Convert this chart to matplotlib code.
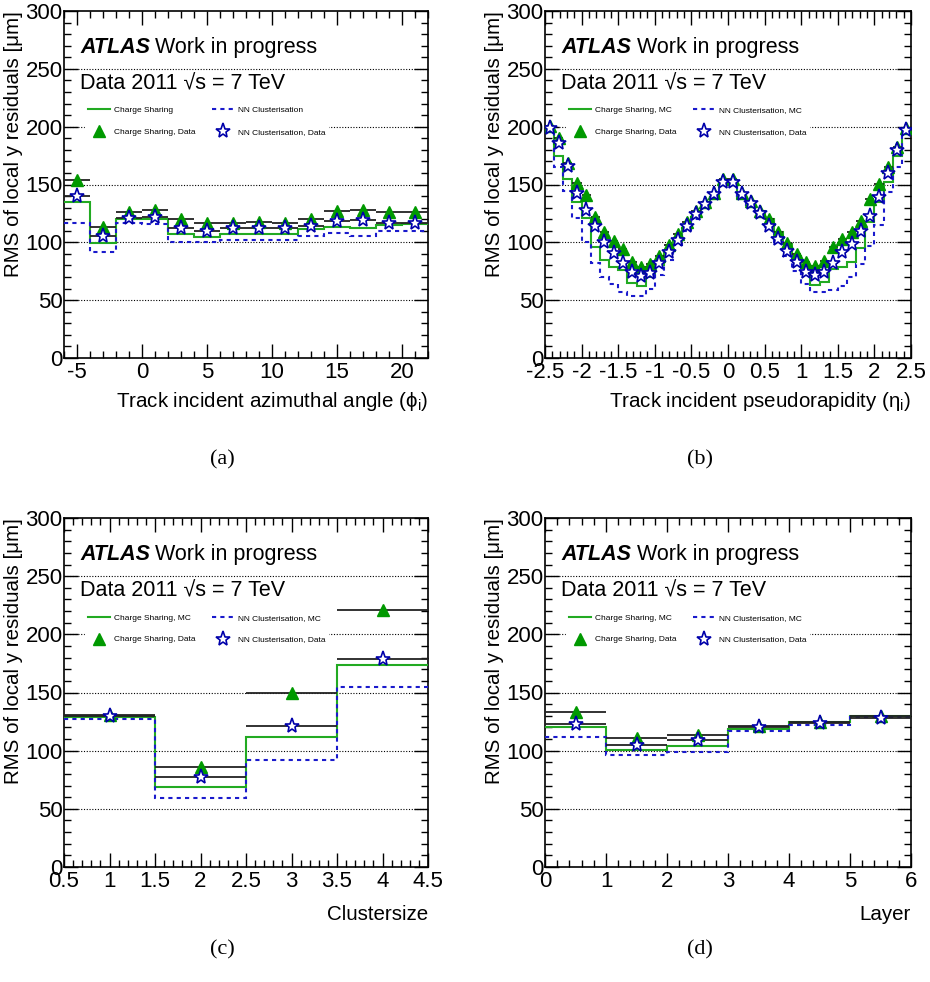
import numpy as np
import matplotlib.pyplot as plt
from matplotlib.ticker import MultipleLocator, FuncFormatter
from matplotlib.lines import Line2D

plt.rcParams['font.family'] = ['Liberation Sans', 'DejaVu Sans']
plt.rcParams['axes.unicode_minus'] = False
plt.rcParams['mathtext.default'] = 'regular'

# ---- data ----
# (a) track incident azimuthal angle, bins of width 2 from -6 to 22
phi_edges = np.arange(-6, 23, 2)
phi_cs_mc = [135, 99, 120.6, 120.6, 107, 105, 107.4, 107.4, 107.4, 111.4, 113.4, 112.3, 114.9, 115.7]
phi_nn_mc = [117, 91.4, 116.9, 115.7, 100, 100, 102, 102, 102, 105.7, 108, 105.7, 110, 109.4]
phi_cs_data = [154.3, 113.4, 126, 128, 120, 116.3, 116.9, 117.7, 117, 120.6, 126.9, 128.3, 126.6, 126.6]
phi_nn_data = [140, 105.7, 121.4, 122, 112.3, 110, 112, 112, 112, 114.3, 118.3, 119.4, 116.6, 117]

# (b) track incident pseudorapidity, 40 bins from -2.5 to 2.5
eta_edges = np.linspace(-2.5, 2.5, 41)
eta_cs_mc = [200, 175, 154.6, 135.3, 120.7, 95.7, 85, 79, 76.4, 64.7,
             62.6, 70, 80, 91, 101, 112, 122, 131, 139, 154,
             154, 138, 134.5, 127.3, 120, 108.6, 98.6, 88, 78, 63.5,
             65.5, 77, 79, 83.3, 95, 118, 135, 152, 175, 198]
eta_nn_mc = [195, 165, 144, 120.7, 100, 82, 70, 64, 57, 54,
             54, 60, 72, 85, 98, 110, 120, 130, 139, 153,
             153, 140, 132, 122, 112, 100, 88, 75, 64, 57,
             57, 59, 62.6, 70, 81, 96.6, 115, 143.7, 165, 195]
eta_cs_data = [200.5, 190, 169, 151.5, 141, 121.5, 109, 101.4, 94.3, 83.3,
               78.4, 81.3, 88.5, 97.7, 107.2, 117.2, 127.3, 134.5, 142.5, 154.5,
               154.5, 143, 136, 127.3, 120, 109, 99.4, 90, 83.3, 79.3,
               84.2, 95.7, 102.9, 108.6, 118.7, 137.4, 150.3, 165, 182, 199]
eta_nn_data = [199, 186, 166, 142.5, 128, 113.8, 100, 90.8, 82, 74,
               71.3, 73.6, 82, 91.4, 102.3, 114.4, 124.4, 133, 141.5, 152.3,
               152.3, 141.4, 134.2, 125.6, 114.4, 102.9, 92.8, 82.8, 74.1, 71.8,
               74.7, 81.9, 91.4, 98.6, 110, 123, 138.8, 160.3, 180, 197]

# (c) cluster size
cl_edges = [0.5, 1.5, 2.5, 3.5, 4.5]
cl_cs_mc = [129, 69, 112, 173.5]
cl_nn_mc = [127, 59, 92, 155]
cl_cs_data = [130.5, 86, 150, 221.3]
cl_nn_data = [130, 77, 121.5, 179.2]

# (d) layer
ly_edges = [0, 1, 2, 3, 4, 5, 6]
ly_cs_mc = [120, 101, 104, 118.5, 124.3, 129.5]
ly_nn_mc = [111.8, 96, 99.1, 116.8, 122.3, 128.6]
ly_cs_data = [133, 111.3, 113.3, 121.4, 124.9, 129.5]
ly_nn_data = [122.5, 105, 109.2, 120, 123.7, 128.3]

labels_a = ['Charge Sharing', 'NN Clusterisation', 'Charge Sharing, Data', 'NN Clusterisation, Data']
labels_mc = ['Charge Sharing, MC', 'NN Clusterisation, MC', 'Charge Sharing, Data', 'NN Clusterisation, Data']

green_line = '#22aa22'
green_mark = '#009900'
blue = '#1a1acc'
star_col = '#0000aa'
fs_tick = 16
fs_title = 14.8
fs_text = 15.5


def panel(ax, edges, cs_mc, nn_mc, cs_data, nn_data, labels, xlabel, major, minor, xlabel_pad):
    edges = np.asarray(edges, dtype=float)
    centers = 0.5 * (edges[1:] + edges[:-1])
    half = 0.5 * np.diff(edges)

    for y in range(50, 300, 50):
        ax.axhline(y, color='black', lw=0.8, ls=(0, (1, 1.5)), zorder=0)

    ax.stairs(cs_mc, edges, baseline=None, color=green_line, lw=1.5, zorder=3)
    ax.stairs(nn_mc, edges, baseline=None, color=blue, lw=1.5, ls=(0, (2, 2)), zorder=3)
    ax.errorbar(centers, cs_data, xerr=half, fmt='none', ecolor='#222222', elinewidth=1.3, zorder=4)
    ax.errorbar(centers, nn_data, xerr=half, fmt='none', ecolor='#222222', elinewidth=1.3, zorder=4)
    ax.plot(centers, cs_data, '^', color=green_mark, ms=8, mec=green_mark, ls='none', zorder=5)
    ax.plot(centers, nn_data, '*', mfc='white', mec=star_col, mew=1.2, ms=11, ls='none', zorder=6)

    ax.set_xlim(edges[0], edges[-1])
    ax.set_ylim(0, 300)
    ax.xaxis.set_major_locator(MultipleLocator(major))
    ax.xaxis.set_minor_locator(MultipleLocator(minor))
    ax.xaxis.set_major_formatter(FuncFormatter(lambda v, p: '%g' % round(v, 3)))
    ax.yaxis.set_major_locator(MultipleLocator(50))
    ax.yaxis.set_minor_locator(MultipleLocator(10))
    ax.tick_params(which='both', direction='in', top=True, right=True, labelsize=fs_tick, width=1.0)
    ax.tick_params(which='major', length=10)
    ax.tick_params(which='minor', length=5)
    ax.tick_params(axis='x', pad=3)
    ax.tick_params(axis='y', pad=1)
    for s in ax.spines.values():
        s.set_linewidth(1.2)

    ax.set_ylabel('RMS of local y residuals [μm]', fontsize=fs_title, loc='top', labelpad=2)
    ax.set_xlabel(xlabel, fontsize=fs_title, loc='right', labelpad=xlabel_pad)

    ax.text(0.045, 0.895, 'ATLAS', transform=ax.transAxes, fontsize=fs_text,
            fontweight='bold', fontstyle='italic', va='center')
    ax.text(0.25, 0.895, 'Work in progress', transform=ax.transAxes, fontsize=fs_text, va='center')
    ax.text(0.045, 0.79, 'Data 2011 √s = 7 TeV', transform=ax.transAxes, fontsize=fs_text, va='center')

    handles = [
        Line2D([], [], color=green_line, lw=1.5),
        Line2D([], [], color=blue, lw=1.5, ls=(0, (2, 2))),
        Line2D([], [], marker='^', color=green_mark, ls='none', ms=8),
        Line2D([], [], marker='*', mfc='white', mec=star_col, mew=1.2, ls='none', ms=11),
    ]
    order = [0, 2, 1, 3]
    leg = ax.legend([handles[i] for i in order], [labels[i] for i in order], ncol=2,
                    loc='upper left', bbox_to_anchor=(0.058, 0.732), fontsize=6,
                    frameon=True, facecolor='white', edgecolor='white', framealpha=1,
                    handlelength=2.7, handletextpad=0.5, columnspacing=1.9,
                    labelspacing=1.65, borderpad=0.3, borderaxespad=0, fancybox=False)
    leg.set_zorder(2)


fig = plt.figure(figsize=(9.3, 9.82), dpi=100)
axa = fig.add_axes([64 / 930, 1 - 358 / 982, 364 / 930, 347 / 982])
axb = fig.add_axes([545 / 930, 1 - 358 / 982, 366 / 930, 347 / 982])
axc = fig.add_axes([64 / 930, 1 - 867 / 982, 364 / 930, 349 / 982])
axd = fig.add_axes([545 / 930, 1 - 867 / 982, 366 / 930, 349 / 982])

panel(axa, phi_edges, phi_cs_mc, phi_nn_mc, phi_cs_data, phi_nn_data, labels_a,
      'Track incident azimuthal angle (ϕ$_{i}$)', 5, 1, 5)
panel(axb, eta_edges, eta_cs_mc, eta_nn_mc, eta_cs_data, eta_nn_data, labels_mc,
      'Track incident pseudorapidity (η$_{i}$)', 0.5, 0.1, 5)
panel(axc, cl_edges, cl_cs_mc, cl_nn_mc, cl_cs_data, cl_nn_data, labels_mc,
      'Clustersize', 0.5, 0.1, 9)
panel(axd, ly_edges, ly_cs_mc, ly_nn_mc, ly_cs_data, ly_nn_data, labels_mc,
      'Layer', 1, 0.2, 9)

for x, y, t in [(222, 460, '(a)'), (700, 460, '(b)'), (222, 950, '(c)'), (700, 950, '(d)')]:
    fig.text(x / 930, 1 - y / 982, t, fontsize=16, family='Liberation Serif', ha='center', va='center')

fig.savefig('out.png', dpi=100)
